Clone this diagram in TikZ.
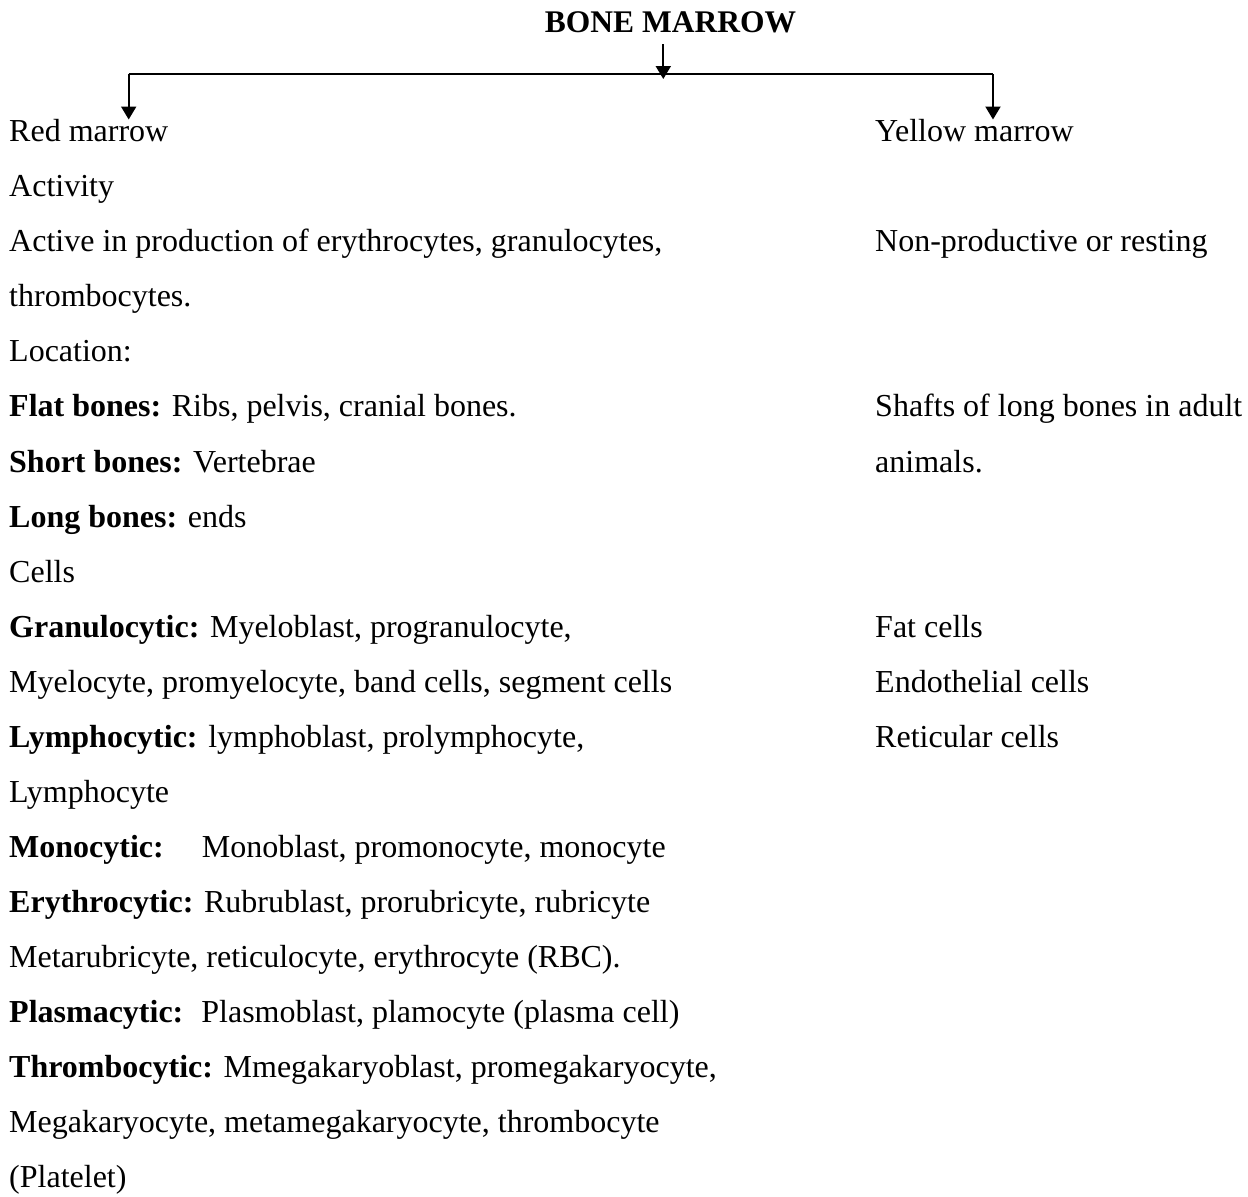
\documentclass[tikz,border=0pt]{standalone}
\usepackage{fontspec}
\setmainfont{Liberation Serif}
\usepackage{tikz}
\usetikzlibrary{arrows.meta,positioning}

\begin{document}
\begin{tikzpicture}[
    x=1pt, y=1pt,
    node distance=55.05pt,
    txt/.style={inner sep=0pt, text height=24pt, text depth=8pt, font=\fontsize{32}{38}\selectfont},
    title/.style={txt, font=\fontsize{31.5}{38}\selectfont\bfseries},
    arrow/.style={-{Triangle[width=15pt,length=13pt]}, line width=2pt},
    link/.style={line width=2pt}
]
    \useasboundingbox (0,0) rectangle (1248,-1197);

    \node[title, anchor=base] (bm) at (670.5,-32) {BONE MARROW};

    % left column: red marrow
    \node[txt, anchor=base west] (red) at (9,-141.7) {Red marrow};
    \node[txt, below=of red.west, anchor=west] (activity) {Activity};
    \node[txt, below=of activity.west, anchor=west] (active) {Active in production of erythrocytes, granulocytes,};
    \node[txt, below=of active.west, anchor=west] (thromb) {thrombocytes.};
    \node[txt, below=of thromb.west, anchor=west] (location) {Location:};
    \node[txt, below=of location.west, anchor=west] (flat) {\textbf{Flat bones:} Ribs, pelvis, cranial bones.};
    \node[txt, below=of flat.west, anchor=west] (short) {\textbf{Short bones:} Vertebrae};
    \node[txt, below=of short.west, anchor=west] (long) {\textbf{Long bones:} ends};
    \node[txt, below=of long.west, anchor=west] (cells) {Cells};
    \node[txt, below=of cells.west, anchor=west] (granulo) {\textbf{Granulocytic:} Myeloblast, progranulocyte,};
    \node[txt, below=of granulo.west, anchor=west] (myelo) {Myelocyte, promyelocyte, band cells, segment cells};
    \node[txt, below=of myelo.west, anchor=west] (lympho) {\textbf{Lymphocytic:} lymphoblast, prolymphocyte,};
    \node[txt, below=of lympho.west, anchor=west] (lymphocyte) {Lymphocyte};
    \node[txt, below=of lymphocyte.west, anchor=west] (mono) {\textbf{Monocytic:}\hspace*{38pt}Monoblast, promonocyte, monocyte};
    \node[txt, below=of mono.west, anchor=west] (erythro) {\textbf{Erythrocytic:} Rubrublast, prorubricyte, rubricyte};
    \node[txt, below=of erythro.west, anchor=west] (metaru) {Metarubricyte, reticulocyte, erythrocyte (RBC).};
    \node[txt, below=of metaru.west, anchor=west] (plasma) {\textbf{Plasmacytic:}\hspace*{18pt}Plasmoblast, plamocyte (plasma cell)};
    \node[txt, below=of plasma.west, anchor=west] (thrombo) {\textbf{Thrombocytic:} Mmegakaryoblast, promegakaryocyte,};
    \node[txt, below=of thrombo.west, anchor=west] (megak) {Megakaryocyte, metamegakaryocyte, thrombocyte};
    \node[txt, below=of megak.west, anchor=west] (platelet) {(Platelet)};

    % right column: yellow marrow
    \node[txt, anchor=base west] (yellow) at (875,-141.7) {Yellow marrow};
    \node[txt, anchor=west] (nonprod) at (yellow.west |- active.west) {Non-productive or resting};
    \node[txt, anchor=west] (shafts) at (yellow.west |- flat.west) {Shafts of long bones in adult};
    \node[txt, anchor=west] (animals) at (yellow.west |- short.west) {animals.};
    \node[txt, anchor=west] (fat) at (yellow.west |- granulo.west) {Fat cells};
    \node[txt, anchor=west] (endo) at (yellow.west |- myelo.west) {Endothelial cells};
    \node[txt, anchor=west] (retic) at (yellow.west |- lympho.west) {Reticular cells};

    % branching arrows
    \coordinate (hub) at (663.3,-74);
    \coordinate (lend) at (128.7,-74);
    \coordinate (rend) at (993,-74);
    \draw[link] (lend) -- (rend);
    \draw[arrow] ([yshift=-4pt]bm.south -| hub) -- ([yshift=-5pt]hub);
    \draw[arrow] (lend) -- ([yshift=-2pt]lend |- red.north);
    \draw[arrow] (rend) -- ([yshift=-2pt]rend |- yellow.north);
\end{tikzpicture}
\end{document}
